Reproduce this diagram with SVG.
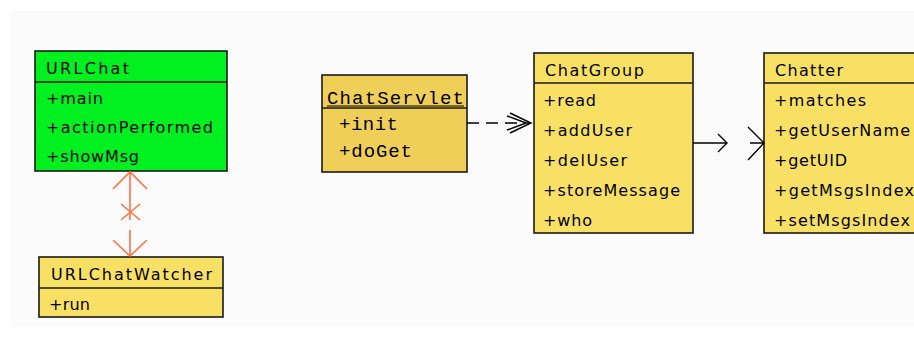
<svg xmlns="http://www.w3.org/2000/svg" width="914" height="338" viewBox="0 0 914 338">
<style>
.box{stroke:#1a1a1a;stroke-width:1.6}
.sep{stroke:#1a1a1a;stroke-width:1.6}
.y{fill:#f8e064}
.g{fill:#00f020}
.s{fill:#f0cf58}
text{font-family:"DejaVu Sans","Liberation Sans",sans-serif;font-size:16px;fill:#000}
.mono{font-family:"Liberation Mono","DejaVu Sans Mono",monospace;font-size:19px}
.c{fill:none;stroke:#000;stroke-width:1.4}
.o{fill:none;stroke:#ff7043;stroke-width:1.6}
</style>
<rect x="10" y="10" width="904" height="317" fill="#fbfbfb"/>
<g id="URLChat">
<rect class="box g" x="35" y="51" width="192" height="120"/>
<line class="sep" x1="35" y1="82" x2="227" y2="82"/>
<text x="46" y="74" textLength="83" lengthAdjust="spacing">URLChat</text>
<text x="46" y="104" textLength="57" lengthAdjust="spacing">+main</text>
<text x="46" y="133" textLength="167" lengthAdjust="spacing">+actionPerformed</text>
<text x="46" y="162" textLength="93" lengthAdjust="spacing">+showMsg</text>
</g>
<g id="URLChatWatcher">
<rect class="box y" x="39" y="257" width="184" height="60"/>
<line class="sep" x1="39" y1="288" x2="223" y2="288"/>
<text x="51" y="280" textLength="161" lengthAdjust="spacing">URLChatWatcher</text>
<text x="49" y="310" textLength="41" lengthAdjust="spacing">+run</text>
</g>
<g id="ChatServlet">
<rect class="box s" x="322" y="75" width="145" height="97"/>
<line class="sep" x1="322" y1="108" x2="467" y2="108"/>
<text class="mono" x="327" y="104" textLength="137" lengthAdjust="spacing">ChatServlet</text>
<line x1="327" y1="106" x2="464" y2="106" stroke="#000" stroke-width="1"/>
<text class="mono" x="339" y="130" textLength="59" lengthAdjust="spacing">+init</text>
<text class="mono" x="339" y="157" textLength="73" lengthAdjust="spacing">+doGet</text>
</g>
<g id="ChatGroup">
<rect class="box y" x="534" y="53" width="159" height="180"/>
<line class="sep" x1="534" y1="83" x2="693" y2="83"/>
<text x="545" y="76" textLength="99" lengthAdjust="spacing">ChatGroup</text>
<text x="543" y="106" textLength="53" lengthAdjust="spacing">+read</text>
<text x="543" y="136" textLength="89" lengthAdjust="spacing">+addUser</text>
<text x="543" y="166" textLength="84" lengthAdjust="spacing">+delUser</text>
<text x="543" y="196" textLength="137" lengthAdjust="spacing">+storeMessage</text>
<text x="543" y="226" textLength="49" lengthAdjust="spacing">+who</text>
</g>
<g id="Chatter">
<rect class="box y" x="764" y="53" width="160" height="180"/>
<line class="sep" x1="764" y1="83" x2="914" y2="83"/>
<text x="775" y="76" textLength="68" lengthAdjust="spacing">Chatter</text>
<text x="774" y="106" textLength="92" lengthAdjust="spacing">+matches</text>
<text x="774" y="136" textLength="136" lengthAdjust="spacing">+getUserName</text>
<text x="774" y="166" textLength="73" lengthAdjust="spacing">+getUID</text>
<text x="774" y="196" textLength="140" lengthAdjust="spacing">+getMsgsIndex</text>
<text x="774" y="226" textLength="136" lengthAdjust="spacing">+setMsgsIndex</text>
</g>
<g id="connectors">
<path class="o" d="M130,172 V220 M113,189 L130,172 L147,189 M121,204 L140,220 M140,204 L121,220 M130,230 V256 M113,240 L130,256 L147,240"/>
<path class="c" d="M467,123 H529" stroke-dasharray="12,7"/>
<path class="c" d="M510,113 L531,123 L510,133 M507,116 L526,123 M507,130 L526,123" stroke-width="1.1"/>
<path class="c" d="M693,143 H727 M718,134 L727,143 L718,152"/>
<path class="c" d="M750,143 H764 M748,127 L764,143 L748,160"/>
</g>
</svg>
